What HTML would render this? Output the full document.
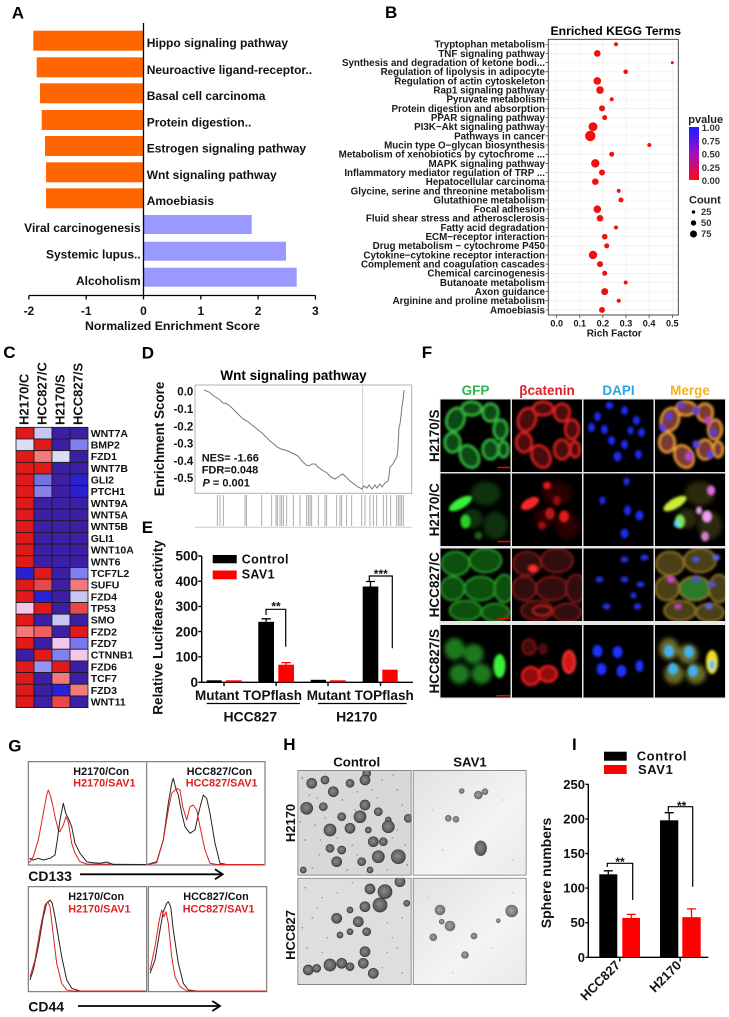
<!DOCTYPE html>
<html><head><meta charset="utf-8"><style>
html,body{margin:0;padding:0;background:#fff;}
svg{display:block;}
text{font-family:"Liberation Sans",Arial,sans-serif;font-weight:bold;}
</style></head><body>
<svg width="729" height="1017" viewBox="0 0 729 1017" xmlns="http://www.w3.org/2000/svg">
<defs>
<filter id="b1" x="-30%" y="-30%" width="160%" height="160%"><feGaussianBlur stdDeviation="1.2"/></filter>
<filter id="b2" x="-30%" y="-30%" width="160%" height="160%"><feGaussianBlur stdDeviation="2.5"/></filter>
<linearGradient id="pv" x1="0" y1="0" x2="0" y2="1"><stop offset="0" stop-color="#1a1aff"/><stop offset="0.5" stop-color="#a010c8"/><stop offset="1" stop-color="#ff0a0a"/></linearGradient>
<radialGradient id="sph" cx="0.45" cy="0.45" r="0.6"><stop offset="0" stop-color="#8a8a8a"/><stop offset="0.7" stop-color="#606060"/><stop offset="1" stop-color="#3c3c3c"/></radialGradient>
<radialGradient id="sph2" cx="0.45" cy="0.45" r="0.6"><stop offset="0" stop-color="#a4a4a4"/><stop offset="0.7" stop-color="#7a7a7a"/><stop offset="1" stop-color="#5a5a5a"/></radialGradient>
<linearGradient id="hbg" x1="0" y1="0" x2="1" y2="1"><stop offset="0" stop-color="#e2e2e2"/><stop offset="0.6" stop-color="#f4f4f4"/><stop offset="1" stop-color="#eaeaea"/></linearGradient>
</defs>
<rect width="729" height="1017" fill="#fff"/>

<!-- ===== Panel A ===== -->
<text x="11.7" y="18.3" font-size="17">A</text>
<g fill="#ff6600">
<rect x="33.3" y="30.7" width="110.2" height="20"/>
<rect x="36.7" y="57.3" width="106.8" height="20"/>
<rect x="40" y="83.3" width="103.5" height="20"/>
<rect x="41.7" y="110" width="101.8" height="20"/>
<rect x="45" y="136" width="98.5" height="20"/>
<rect x="46" y="162.3" width="97.5" height="20"/>
<rect x="46" y="188.3" width="97.5" height="20"/>
</g>
<g fill="#9999ff">
<rect x="143.5" y="215" width="108.2" height="19"/>
<rect x="143.5" y="241.7" width="142.5" height="19"/>
<rect x="143.5" y="267.7" width="153.2" height="19"/>
</g>
<g font-size="12" fill="#111">
<text x="146.7" y="47.2">Hippo signaling pathway</text>
<text x="146.7" y="73.8">Neuroactive ligand-receptor..</text>
<text x="146.7" y="99.8">Basal cell carcinoma</text>
<text x="146.7" y="126.5">Protein digestion..</text>
<text x="146.7" y="152.5">Estrogen signaling pathway</text>
<text x="146.7" y="178.8">Wnt signaling pathway</text>
<text x="146.7" y="204.8">Amoebiasis</text>
</g>
<g font-size="12" fill="#111" text-anchor="end">
<text x="140.7" y="232">Viral carcinogenesis</text>
<text x="140.7" y="258.5">Systemic lupus..</text>
<text x="140.7" y="285">Alcoholism</text>
</g>
<g stroke="#000" stroke-width="1.3" fill="none">
<line x1="143.5" y1="23" x2="143.5" y2="295.5"/>
<line x1="28.9" y1="295.5" x2="315.4" y2="295.5"/>
<path d="M28.9,295.5V299.5M86.2,295.5V299.5M143.5,295.5V299.5M200.8,295.5V299.5M258.1,295.5V299.5M315.4,295.5V299.5"/>
</g>
<g font-size="12" text-anchor="middle" fill="#111">
<text x="28.9" y="315">-2</text>
<text x="86.2" y="315">-1</text>
<text x="143.5" y="315">0</text>
<text x="200.8" y="315">1</text>
<text x="258.1" y="315">2</text>
<text x="315.4" y="315">3</text>
<text x="172.5" y="330" font-size="12.3">Normalized Enrichment Score</text>
</g>

<!-- ===== Panel B ===== -->
<text x="385" y="18" font-size="17">B</text>
<text x="615.8" y="35" font-size="12.2" text-anchor="middle">Enriched KEGG Terms</text>
<rect x="548.3" y="39.3" width="130" height="275.7" fill="#fff"/>
<g stroke="#ececec" stroke-width="0.6">
<path d="M556.7,39.3V315M579.8,39.3V315M602.9,39.3V315M626,39.3V315M649.1,39.3V315M672.3,39.3V315"/>
<path d="M548.3,44.3H678.3M548.3,53.46H678.3M548.3,62.62H678.3M548.3,71.78H678.3M548.3,80.94H678.3M548.3,90.1H678.3M548.3,99.26H678.3M548.3,108.42H678.3M548.3,117.58H678.3M548.3,126.74H678.3M548.3,135.9H678.3M548.3,145.06H678.3M548.3,154.22H678.3M548.3,163.38H678.3M548.3,172.54H678.3M548.3,181.7H678.3M548.3,190.86H678.3M548.3,200.02H678.3M548.3,209.18H678.3M548.3,218.34H678.3M548.3,227.5H678.3M548.3,236.66H678.3M548.3,245.82H678.3M548.3,254.98H678.3M548.3,264.14H678.3M548.3,273.3H678.3M548.3,282.46H678.3M548.3,291.62H678.3M548.3,300.78H678.3M548.3,309.94H678.3"/>
</g>
<rect x="548.3" y="39.3" width="130" height="275.7" fill="none" stroke="#333" stroke-width="0.9"/>
<g fill="#f01010">
<circle cx="616" cy="44.3" r="2"/>
<circle cx="597.3" cy="53.46" r="3.3"/>
<circle cx="672.3" cy="62.62" r="1.5"/>
<circle cx="625.7" cy="71.78" r="2.3"/>
<circle cx="597.3" cy="80.94" r="3.8"/>
<circle cx="600" cy="90.1" r="3.8"/>
<circle cx="611.7" cy="99.26" r="2"/>
<circle cx="602" cy="108.42" r="3"/>
<circle cx="604.7" cy="117.58" r="2.5"/>
<circle cx="593" cy="126.74" r="4.5"/>
<circle cx="590.3" cy="135.9" r="5.2"/>
<circle cx="649.3" cy="145.06" r="2"/>
<circle cx="611.7" cy="154.22" r="2.5"/>
<circle cx="595.3" cy="163.38" r="4.2"/>
<circle cx="602" cy="172.54" r="3"/>
<circle cx="595.3" cy="181.7" r="3.3"/>
<circle cx="618.7" cy="190.86" r="2"/>
<circle cx="621" cy="200.02" r="2.5"/>
<circle cx="597.3" cy="209.18" r="3.8"/>
<circle cx="600" cy="218.34" r="3.3"/>
<circle cx="616" cy="227.5" r="2"/>
<circle cx="604.7" cy="236.66" r="2.8"/>
<circle cx="606.7" cy="245.82" r="2.5"/>
<circle cx="593" cy="254.98" r="4.2"/>
<circle cx="600" cy="264.14" r="3"/>
<circle cx="604.7" cy="273.3" r="2.5"/>
<circle cx="625.7" cy="282.46" r="2"/>
<circle cx="604.7" cy="291.62" r="3.5"/>
<circle cx="618.7" cy="300.78" r="2"/>
<circle cx="602" cy="309.94" r="3"/>
</g>
<g stroke="#333" stroke-width="0.7">
<path d="M545.5,44.3H548.3M545.5,53.46H548.3M545.5,62.62H548.3M545.5,71.78H548.3M545.5,80.94H548.3M545.5,90.1H548.3M545.5,99.26H548.3M545.5,108.42H548.3M545.5,117.58H548.3M545.5,126.74H548.3M545.5,135.9H548.3M545.5,145.06H548.3M545.5,154.22H548.3M545.5,163.38H548.3M545.5,172.54H548.3M545.5,181.7H548.3M545.5,190.86H548.3M545.5,200.02H548.3M545.5,209.18H548.3M545.5,218.34H548.3M545.5,227.5H548.3M545.5,236.66H548.3M545.5,245.82H548.3M545.5,254.98H548.3M545.5,264.14H548.3M545.5,273.3H548.3M545.5,282.46H548.3M545.5,291.62H548.3M545.5,300.78H548.3M545.5,309.94H548.3"/>
<path d="M556.7,315V318M579.8,315V318M602.9,315V318M626,315V318M649.1,315V318M672.3,315V318"/>
</g>
<g font-size="9.8" text-anchor="end" fill="#1a1a1a">
<text x="545" y="47.7">Tryptophan metabolism</text>
<text x="545" y="56.86">TNF signaling pathway</text>
<text x="545" y="66.02">Synthesis and degradation of ketone bodi...</text>
<text x="545" y="75.18">Regulation of lipolysis in adipocyte</text>
<text x="545" y="84.34">Regulation of actin cytoskeleton</text>
<text x="545" y="93.5">Rap1 signaling pathway</text>
<text x="545" y="102.66">Pyruvate metabolism</text>
<text x="545" y="111.82">Protein digestion and absorption</text>
<text x="545" y="120.98">PPAR signaling pathway</text>
<text x="545" y="130.14">PI3K−Akt signaling pathway</text>
<text x="545" y="139.3">Pathways in cancer</text>
<text x="545" y="148.46">Mucin type O−glycan biosynthesis</text>
<text x="545" y="157.62">Metabolism of xenobiotics by cytochrome ...</text>
<text x="545" y="166.78">MAPK signaling pathway</text>
<text x="545" y="175.94">Inflammatory mediator regulation of TRP ...</text>
<text x="545" y="185.1">Hepatocellular carcinoma</text>
<text x="545" y="194.26">Glycine, serine and threonine metabolism</text>
<text x="545" y="203.42">Glutathione metabolism</text>
<text x="545" y="212.58">Focal adhesion</text>
<text x="545" y="221.74">Fluid shear stress and atherosclerosis</text>
<text x="545" y="230.9">Fatty acid degradation</text>
<text x="545" y="240.06">ECM−receptor interaction</text>
<text x="545" y="249.22">Drug metabolism − cytochrome P450</text>
<text x="545" y="258.38">Cytokine−cytokine receptor interaction</text>
<text x="545" y="267.54">Complement and coagulation cascades</text>
<text x="545" y="276.7">Chemical carcinogenesis</text>
<text x="545" y="285.86">Butanoate metabolism</text>
<text x="545" y="295.02">Axon guidance</text>
<text x="545" y="304.18">Arginine and proline metabolism</text>
<text x="545" y="313.34">Amoebiasis</text>
</g>
<g font-size="9.1" text-anchor="middle" fill="#1a1a1a">
<text x="556.7" y="326.5">0.0</text>
<text x="579.8" y="326.5">0.1</text>
<text x="602.9" y="326.5">0.2</text>
<text x="626" y="326.5">0.3</text>
<text x="649.1" y="326.5">0.4</text>
<text x="672.3" y="326.5">0.5</text>
<text x="614.2" y="336.5" font-size="10">Rich Factor</text>
</g>
<text x="688.3" y="123" font-size="11" font-weight="normal" fill="#222">pvalue</text>
<rect x="689" y="127" width="10" height="53" fill="url(#pv)"/>
<g font-size="9.4" fill="#333">
<text x="701.7" y="131" font-weight="normal">1.00</text>
<text x="701.7" y="144.3" font-weight="normal">0.75</text>
<text x="701.7" y="157.5" font-weight="normal">0.50</text>
<text x="701.7" y="170.8" font-weight="normal">0.25</text>
<text x="701.7" y="184" font-weight="normal">0.00</text>
</g>
<text x="689" y="203.5" font-size="11" font-weight="normal" fill="#222">Count</text>
<g fill="#000"><circle cx="693.5" cy="212" r="1.7"/><circle cx="693.5" cy="223" r="2.7"/><circle cx="693.5" cy="234" r="3.5"/></g>
<g font-size="9.4" fill="#333">
<text x="701" y="215.2" font-weight="normal">25</text>
<text x="701" y="226.2" font-weight="normal">50</text>
<text x="701" y="237.2" font-weight="normal">75</text>
</g>

<!-- ===== Panel C ===== -->
<text x="3.3" y="358" font-size="17">C</text>
<g font-size="13" fill="#111">
<text transform="translate(28.3,425) rotate(-90)">H2170/C</text>
<text transform="translate(46.3,425) rotate(-90)">HCC827/C</text>
<text transform="translate(64.3,425) rotate(-90)">H2170/S</text>
<text transform="translate(82.3,425) rotate(-90)">HCC827/S</text>
</g>
<g stroke="#1a1a1a" stroke-width="0.8">
<g transform="translate(0,427.3)"><rect x="16" width="18" height="11.68" fill="#e0191b"/><rect x="34" width="18" height="11.68" fill="#c8c6f2"/><rect x="52" width="18" height="11.68" fill="#3d1fa6"/><rect x="70" width="18" height="11.68" fill="#3d1fa6"/></g>
<g transform="translate(0,438.98)"><rect x="16" width="18" height="11.68" fill="#dcdcf4"/><rect x="34" width="18" height="11.68" fill="#e0191b"/><rect x="52" width="18" height="11.68" fill="#3d1fa6"/><rect x="70" width="18" height="11.68" fill="#8080ee"/></g>
<g transform="translate(0,450.66)"><rect x="16" width="18" height="11.68" fill="#e0191b"/><rect x="34" width="18" height="11.68" fill="#f27a7a"/><rect x="52" width="18" height="11.68" fill="#dcdcf4"/><rect x="70" width="18" height="11.68" fill="#3d1fa6"/></g>
<g transform="translate(0,462.34)"><rect x="16" width="18" height="11.68" fill="#e0191b"/><rect x="34" width="18" height="11.68" fill="#e0191b"/><rect x="52" width="18" height="11.68" fill="#3d1fa6"/><rect x="70" width="18" height="11.68" fill="#3d1fa6"/></g>
<g transform="translate(0,474.02)"><rect x="16" width="18" height="11.68" fill="#e0191b"/><rect x="34" width="18" height="11.68" fill="#7272e0"/><rect x="52" width="18" height="11.68" fill="#3d1fa6"/><rect x="70" width="18" height="11.68" fill="#2a20d0"/></g>
<g transform="translate(0,485.7)"><rect x="16" width="18" height="11.68" fill="#e0191b"/><rect x="34" width="18" height="11.68" fill="#8a80e8"/><rect x="52" width="18" height="11.68" fill="#3d1fa6"/><rect x="70" width="18" height="11.68" fill="#2a20d0"/></g>
<g transform="translate(0,497.38)"><rect x="16" width="18" height="11.68" fill="#e0191b"/><rect x="34" width="18" height="11.68" fill="#3d1fa6"/><rect x="52" width="18" height="11.68" fill="#3d1fa6"/><rect x="70" width="18" height="11.68" fill="#3d1fa6"/></g>
<g transform="translate(0,509.06)"><rect x="16" width="18" height="11.68" fill="#e0191b"/><rect x="34" width="18" height="11.68" fill="#3d1fa6"/><rect x="52" width="18" height="11.68" fill="#3d1fa6"/><rect x="70" width="18" height="11.68" fill="#3d1fa6"/></g>
<g transform="translate(0,520.74)"><rect x="16" width="18" height="11.68" fill="#e0191b"/><rect x="34" width="18" height="11.68" fill="#3d1fa6"/><rect x="52" width="18" height="11.68" fill="#3d1fa6"/><rect x="70" width="18" height="11.68" fill="#3d1fa6"/></g>
<g transform="translate(0,532.42)"><rect x="16" width="18" height="11.68" fill="#e0191b"/><rect x="34" width="18" height="11.68" fill="#3d1fa6"/><rect x="52" width="18" height="11.68" fill="#3d1fa6"/><rect x="70" width="18" height="11.68" fill="#3d1fa6"/></g>
<g transform="translate(0,544.1)"><rect x="16" width="18" height="11.68" fill="#e0191b"/><rect x="34" width="18" height="11.68" fill="#3d1fa6"/><rect x="52" width="18" height="11.68" fill="#3d1fa6"/><rect x="70" width="18" height="11.68" fill="#3d1fa6"/></g>
<g transform="translate(0,555.78)"><rect x="16" width="18" height="11.68" fill="#e0191b"/><rect x="34" width="18" height="11.68" fill="#3d1fa6"/><rect x="52" width="18" height="11.68" fill="#3d1fa6"/><rect x="70" width="18" height="11.68" fill="#3d1fa6"/></g>
<g transform="translate(0,567.46)"><rect x="16" width="18" height="11.68" fill="#2a20d0"/><rect x="34" width="18" height="11.68" fill="#e0191b"/><rect x="52" width="18" height="11.68" fill="#3d1fa6"/><rect x="70" width="18" height="11.68" fill="#8080ee"/></g>
<g transform="translate(0,579.14)"><rect x="16" width="18" height="11.68" fill="#e0191b"/><rect x="34" width="18" height="11.68" fill="#e8484a"/><rect x="52" width="18" height="11.68" fill="#3d1fa6"/><rect x="70" width="18" height="11.68" fill="#f27a7a"/></g>
<g transform="translate(0,590.82)"><rect x="16" width="18" height="11.68" fill="#e0191b"/><rect x="34" width="18" height="11.68" fill="#2a20d8"/><rect x="52" width="18" height="11.68" fill="#3d1fa6"/><rect x="70" width="18" height="11.68" fill="#c8c6f2"/></g>
<g transform="translate(0,602.5)"><rect x="16" width="18" height="11.68" fill="#f4c6e8"/><rect x="34" width="18" height="11.68" fill="#e0191b"/><rect x="52" width="18" height="11.68" fill="#3d1fa6"/><rect x="70" width="18" height="11.68" fill="#e8484a"/></g>
<g transform="translate(0,614.18)"><rect x="16" width="18" height="11.68" fill="#e0191b"/><rect x="34" width="18" height="11.68" fill="#3d1fa6"/><rect x="52" width="18" height="11.68" fill="#c8c6f2"/><rect x="70" width="18" height="11.68" fill="#3d1fa6"/></g>
<g transform="translate(0,625.86)"><rect x="16" width="18" height="11.68" fill="#f27a7a"/><rect x="34" width="18" height="11.68" fill="#ee6060"/><rect x="52" width="18" height="11.68" fill="#3d1fa6"/><rect x="70" width="18" height="11.68" fill="#e0191b"/></g>
<g transform="translate(0,637.54)"><rect x="16" width="18" height="11.68" fill="#e0191b"/><rect x="34" width="18" height="11.68" fill="#3d1fa6"/><rect x="52" width="18" height="11.68" fill="#f4c6e8"/><rect x="70" width="18" height="11.68" fill="#7878ee"/></g>
<g transform="translate(0,649.22)"><rect x="16" width="18" height="11.68" fill="#3d1fa6"/><rect x="34" width="18" height="11.68" fill="#e0191b"/><rect x="52" width="18" height="11.68" fill="#8080ee"/><rect x="70" width="18" height="11.68" fill="#f4c8ec"/></g>
<g transform="translate(0,660.9)"><rect x="16" width="18" height="11.68" fill="#e0191b"/><rect x="34" width="18" height="11.68" fill="#9494f0"/><rect x="52" width="18" height="11.68" fill="#e0191b"/><rect x="70" width="18" height="11.68" fill="#3d1fa6"/></g>
<g transform="translate(0,672.58)"><rect x="16" width="18" height="11.68" fill="#e0191b"/><rect x="34" width="18" height="11.68" fill="#3d1fa6"/><rect x="52" width="18" height="11.68" fill="#f27a7a"/><rect x="70" width="18" height="11.68" fill="#3d1fa6"/></g>
<g transform="translate(0,684.26)"><rect x="16" width="18" height="11.68" fill="#e0191b"/><rect x="34" width="18" height="11.68" fill="#3d1fa6"/><rect x="52" width="18" height="11.68" fill="#2a20d8"/><rect x="70" width="18" height="11.68" fill="#f27a7a"/></g>
<g transform="translate(0,695.94)"><rect x="16" width="18" height="11.68" fill="#e0191b"/><rect x="34" width="18" height="11.68" fill="#3d1fa6"/><rect x="52" width="18" height="11.68" fill="#e8484a"/><rect x="70" width="18" height="11.68" fill="#3d1fa6"/></g>
</g>
<g font-size="10.5" fill="#111">
<text x="90.7" y="436.8">WNT7A</text>
<text x="90.7" y="448.5">BMP2</text>
<text x="90.7" y="460.2">FZD1</text>
<text x="90.7" y="471.8">WNT7B</text>
<text x="90.7" y="483.5">GLI2</text>
<text x="90.7" y="495.2">PTCH1</text>
<text x="90.7" y="506.9">WNT9A</text>
<text x="90.7" y="518.6">WNT5A</text>
<text x="90.7" y="530.2">WNT5B</text>
<text x="90.7" y="541.9">GLI1</text>
<text x="90.7" y="553.6">WNT10A</text>
<text x="90.7" y="565.3">WNT6</text>
<text x="90.7" y="577">TCF7L2</text>
<text x="90.7" y="588.6">SUFU</text>
<text x="90.7" y="600.3">FZD4</text>
<text x="90.7" y="612">TP53</text>
<text x="90.7" y="623.7">SMO</text>
<text x="90.7" y="635.4">FZD2</text>
<text x="90.7" y="647">FZD7</text>
<text x="90.7" y="658.7">CTNNB1</text>
<text x="90.7" y="670.4">FZD6</text>
<text x="90.7" y="682.1">TCF7</text>
<text x="90.7" y="693.8">FZD3</text>
<text x="90.7" y="705.4">WNT11</text>
</g>

<!-- ===== Panel D ===== -->
<text x="141.7" y="358.3" font-size="17">D</text>
<text x="293.5" y="380" font-size="13.5" text-anchor="middle">Wnt signaling pathway</text>
<rect x="195" y="385" width="216.7" height="108.3" fill="none" stroke="#b0b0b0" stroke-width="1"/>
<line x1="362.7" y1="385" x2="362.7" y2="493.3" stroke="#c4c4c4" stroke-width="0.8"/>
<polyline fill="none" stroke="#777" stroke-width="1" points="204,390 209,392 214,396 217,398 220,400 223,403 226,403.5 230,406 233,409 238,414 243,419 247,421 252,425 257,429 262,433 266,437 270,441 274,444 277,447 281,449 285,450 290,452 294,454 298,456 302,461 306,465 309,466 312,464 315,464 318,467 322,470 327,473 331,477 335,479 338,477 341,475 343,474 346,477 350,481 354,484 358,487 362,489 364,486 367,488 369,485 372,489 375,485 377,488 380,484 382,487 385,483 388,481 389,476 390,467 393,464 395,460 397,457 398,448 399,427 400,424 401,416 402,406 403,400 404,390"/>
<g font-size="11.5" text-anchor="end" fill="#111">
<text x="193.3" y="395.7">0.0</text>
<text x="193.3" y="413">-0.1</text>
<text x="193.3" y="430.3">-0.2</text>
<text x="193.3" y="447.6">-0.3</text>
<text x="193.3" y="464.9">-0.4</text>
<text x="193.3" y="482.2">-0.5</text>
</g>
<text transform="translate(164,439) rotate(-90)" font-size="13.4" text-anchor="middle" fill="#111">Enrichment Score</text>
<g font-size="11" fill="#111">
<text x="201.7" y="461.7">NES= -1.66</text>
<text x="201.7" y="473.5">FDR=0.048</text>
<text x="202.5" y="486.7"><tspan font-style="italic">P</tspan> = 0.001</text>
</g>
<path stroke="#9a9a9a" stroke-width="0.8" fill="none" d="M217.3,495V526M220,495V526M223.3,495V526M245,495V526M246.5,495V526M261.7,495V526M271.7,495V526M276,495V526M277.3,495V526M280,495V526M281.7,495V526M283.3,495V526M286.7,495V526M293.3,495V526M300,495V526M306.7,495V526M308.3,495V526M310,495V526M311.7,495V526M318.3,495V526M325,495V526M326.7,495V526M336.7,495V526M340,495V526M341.7,495V526M346.7,495V526M351.7,495V526M361.7,495V526M365,495V526M370,495V526M373.3,495V526M376.7,495V526M383.3,495V526M386.7,495V526M390.7,495V526M396.7,495V526M398.3,495V526M400,495V526M401.7,495V526M403.3,495V526"/>
<line x1="195" y1="527.3" x2="411.7" y2="527.3" stroke="#c8c8c8" stroke-width="1"/>

<!-- ===== Panel E ===== -->
<text x="141.7" y="533" font-size="17">E</text>
<text transform="translate(162.5,627.5) rotate(-90)" font-size="13.6" text-anchor="middle" fill="#111">Relative Lucifearse activity</text>
<g font-size="13.5" text-anchor="end" fill="#111">
<text x="198" y="560.7">500</text>
<text x="198" y="585.9">400</text>
<text x="198" y="611.1">300</text>
<text x="198" y="636.3">200</text>
<text x="198" y="661.5">100</text>
<text x="198" y="686.8">0</text>
</g>
<g stroke="#000" stroke-width="1.4" fill="none">
<line x1="201.7" y1="556" x2="201.7" y2="682.3"/>
<line x1="201.7" y1="682.3" x2="413" y2="682.3"/>
<path d="M198.3,556H201.7M198.3,581.2H201.7M198.3,606.4H201.7M198.3,631.6H201.7M198.3,656.8H201.7M198.3,682.3H201.7"/>
<path d="M224,682.3V686M276.2,682.3V686M328,682.3V686M380.5,682.3V686"/>
</g>
<rect x="212.7" y="555" width="24" height="8.3" fill="#000"/>
<rect x="212.7" y="570.5" width="24" height="8.8" fill="#f00"/>
<text x="241.7" y="563.5" font-size="12.5" fill="#111" letter-spacing="0.4">Control</text>
<text x="241.7" y="578.5" font-size="12.5" fill="#111" letter-spacing="0.4">SAV1</text>
<g fill="#000">
<rect x="206.7" y="680.3" width="15" height="2"/>
<rect x="258.3" y="621.8" width="15.7" height="60.5"/>
<rect x="310.7" y="679.8" width="15.3" height="2.5"/>
<rect x="362.7" y="586.5" width="15.6" height="95.8"/>
</g>
<g fill="#f00">
<rect x="226" y="680.3" width="15.7" height="2"/>
<rect x="278.3" y="664.7" width="15.7" height="17.6"/>
<rect x="330" y="680.3" width="15.7" height="2"/>
<rect x="382.3" y="669.7" width="15.4" height="12.6"/>
</g>
<g stroke="#000" stroke-width="1.3"><path d="M266.1,621.8V618.8M261.5,618.8H270.8M370.5,586.5V581.5M366,581.5H375"/></g>
<g stroke="#f00" stroke-width="1.3"><path d="M286.1,664.7V662.6M281.5,662.6H290.8"/></g>
<g stroke="#000" stroke-width="1.2" fill="none">
<path d="M266,615V609.3H285.7V646.7"/>
<path d="M369.3,581.7V576H392.3V648.3"/>
</g>
<text x="276" y="610.5" font-size="12" text-anchor="middle" fill="#111">**</text>
<text x="380.8" y="578" font-size="12" text-anchor="middle" fill="#111">***</text>
<g font-size="13.5" fill="#111">
<text x="195" y="700">Mutant TOPflash</text>
<text x="306.7" y="700">Mutant TOPflash</text>
</g>
<g stroke="#000" stroke-width="1.3"><line x1="206.7" y1="703.5" x2="300" y2="703.5"/><line x1="318" y1="703.5" x2="406.7" y2="703.5"/></g>
<g font-size="14" text-anchor="middle" fill="#111">
<text x="250.3" y="721.5">HCC827</text>
<text x="356.7" y="721.5">H2170</text>
</g>

<!-- ===== Panel F ===== -->
<text x="421.7" y="358" font-size="17">F</text>
<g font-size="13.5" text-anchor="middle">
<text x="475.5" y="395" fill="#2db84a">GFP</text>
<text x="547" y="395" fill="#e0202a">βcatenin</text>
<text x="618.5" y="395" fill="#2aa4e4">DAPI</text>
<text x="690" y="395" fill="#f2b424">Merge</text>
</g>
<g font-size="13.5" text-anchor="middle" fill="#111">
<text transform="translate(439,435.75) rotate(-90)">H2170/S</text>
<text transform="translate(439,509.75) rotate(-90)">H2170/C</text>
<text transform="translate(439,584.75) rotate(-90)">HCC827/C</text>
<text transform="translate(439,661.25) rotate(-90)">HCC827/S</text>
</g>
<rect x="439.5" y="398.5" width="286.5" height="300" fill="#e6e6e6"/>
<!-- Row 1 -->
<svg x="440.5" y="399.5" width="70" height="72.5"><rect width="70" height="72.5" fill="#000"/>
<g filter="url(#b1)" fill="#0f4a12" stroke="#35c040" stroke-width="2.2">
<ellipse cx="15" cy="20" rx="9" ry="12" transform="rotate(20 15 20)"/><ellipse cx="31" cy="9" rx="10" ry="7"/><ellipse cx="50" cy="13" rx="8" ry="9"/><ellipse cx="60" cy="30" rx="7" ry="10"/><ellipse cx="12" cy="43" rx="8" ry="10"/><ellipse cx="29" cy="57" rx="9" ry="12" transform="rotate(-30 29 57)"/><ellipse cx="50" cy="50" rx="8" ry="10"/><ellipse cx="63" cy="50" rx="5" ry="8"/></g>
<line x1="57" y1="68" x2="69.5" y2="68" stroke="#e00" stroke-width="1.5"/></svg>
<svg x="512" y="399.5" width="70" height="72.5"><rect width="70" height="72.5" fill="#000"/>
<g filter="url(#b1)" fill="#4a0808" stroke="#e02222" stroke-width="2.2">
<ellipse cx="15" cy="20" rx="9" ry="12" transform="rotate(20 15 20)"/><ellipse cx="31" cy="9" rx="10" ry="7"/><ellipse cx="50" cy="13" rx="8" ry="9"/><ellipse cx="60" cy="30" rx="7" ry="10"/><ellipse cx="12" cy="43" rx="8" ry="10"/><ellipse cx="29" cy="57" rx="9" ry="12" transform="rotate(-30 29 57)"/><ellipse cx="50" cy="50" rx="8" ry="10"/><ellipse cx="63" cy="50" rx="5" ry="8"/></g></svg>
<svg x="583.5" y="399.5" width="70" height="72.5"><rect width="70" height="72.5" fill="#000"/>
<g filter="url(#b1)" fill="#1e2cf0">
<ellipse cx="26" cy="6" rx="4" ry="3.5"/><ellipse cx="41" cy="11" rx="3.5" ry="4.5"/><ellipse cx="14" cy="17" rx="3.5" ry="4.5"/><ellipse cx="8" cy="28" rx="3.5" ry="4.5"/><ellipse cx="21" cy="30" rx="3.5" ry="4.5"/><ellipse cx="53" cy="21" rx="3.5" ry="4.5"/><ellipse cx="58" cy="33" rx="3.5" ry="4.5"/><ellipse cx="47" cy="31" rx="3" ry="4"/><ellipse cx="28" cy="41" rx="3.5" ry="4.5"/><ellipse cx="41" cy="45" rx="3.5" ry="4.5"/><ellipse cx="34" cy="57" rx="4" ry="5"/><ellipse cx="55" cy="55" rx="3.5" ry="4.5"/></g></svg>
<svg x="655" y="399.5" width="70" height="72.5"><rect width="70" height="72.5" fill="#000"/>
<g filter="url(#b1)" fill="#7a3a30" stroke="#f0a030" stroke-width="2.2">
<ellipse cx="15" cy="20" rx="9" ry="12" transform="rotate(20 15 20)"/><ellipse cx="31" cy="9" rx="10" ry="7"/><ellipse cx="50" cy="13" rx="8" ry="9"/><ellipse cx="60" cy="30" rx="7" ry="10"/><ellipse cx="12" cy="43" rx="8" ry="10"/><ellipse cx="29" cy="57" rx="9" ry="12" transform="rotate(-30 29 57)"/><ellipse cx="50" cy="50" rx="8" ry="10"/><ellipse cx="63" cy="50" rx="5" ry="8"/></g>
<g filter="url(#b1)" fill="#5a3ce0">
<ellipse cx="26" cy="6" rx="4" ry="3.5"/><ellipse cx="41" cy="11" rx="3.5" ry="4.5"/><ellipse cx="14" cy="17" rx="3.5" ry="4.5"/><ellipse cx="8" cy="28" rx="3.5" ry="4.5"/><ellipse cx="53" cy="21" rx="3.5" ry="4.5" fill="#c040c0"/><ellipse cx="58" cy="33" rx="3.5" ry="4.5"/><ellipse cx="41" cy="45" rx="3.5" ry="4.5"/><ellipse cx="34" cy="57" rx="4" ry="5" fill="#b04ad0"/><ellipse cx="55" cy="55" rx="3.5" ry="4.5"/></g></svg>
<!-- Row 2 -->
<svg x="440.5" y="473.5" width="70" height="72.5"><rect width="70" height="72.5" fill="#000"/>
<g filter="url(#b2)" fill="#0c300c"><ellipse cx="45" cy="20" rx="15" ry="12"/><ellipse cx="55" cy="52" rx="12" ry="14"/><ellipse cx="32" cy="45" rx="10" ry="10"/></g>
<g filter="url(#b1)"><ellipse cx="20" cy="30" rx="13" ry="5" transform="rotate(-30 20 30)" fill="#3af03a"/><ellipse cx="25" cy="48" rx="5" ry="7" fill="#2cd02c"/><ellipse cx="38" cy="62" rx="4" ry="4" fill="#156015"/></g>
<line x1="57" y1="68" x2="69.5" y2="68" stroke="#e00" stroke-width="1.5"/></svg>
<svg x="512" y="473.5" width="70" height="72.5"><rect width="70" height="72.5" fill="#000"/>
<g filter="url(#b2)" fill="#2a0606"><ellipse cx="45" cy="20" rx="15" ry="12"/><ellipse cx="55" cy="52" rx="12" ry="14"/><ellipse cx="32" cy="45" rx="10" ry="10"/></g>
<g filter="url(#b1)"><ellipse cx="18" cy="30" rx="10" ry="5" transform="rotate(-30 18 30)" fill="#ff2626"/><ellipse cx="35" cy="12" rx="4" ry="4" fill="#dd1a1a"/><ellipse cx="38" cy="40" rx="5" ry="6" fill="#b81414"/><ellipse cx="52" cy="43" rx="5" ry="6" fill="#e01c1c"/><ellipse cx="45" cy="27" rx="4" ry="5" fill="#901010"/><ellipse cx="30" cy="52" rx="4" ry="4" fill="#a01010"/></g></svg>
<svg x="583.5" y="473.5" width="70" height="72.5"><rect width="70" height="72.5" fill="#000"/>
<g filter="url(#b1)" fill="#1e2cf0"><ellipse cx="43" cy="8" rx="3" ry="4"/><ellipse cx="19" cy="27" rx="3" ry="4"/><ellipse cx="44" cy="37" rx="3.5" ry="5"/><ellipse cx="56" cy="42" rx="4" ry="5"/><ellipse cx="41" cy="60" rx="4" ry="5"/></g></svg>
<svg x="655" y="473.5" width="70" height="72.5"><rect width="70" height="72.5" fill="#000"/>
<g filter="url(#b2)" fill="#2a2a10"><ellipse cx="45" cy="20" rx="15" ry="12"/><ellipse cx="55" cy="52" rx="12" ry="14"/><ellipse cx="32" cy="45" rx="10" ry="10"/></g>
<g filter="url(#b1)"><ellipse cx="20" cy="30" rx="13" ry="5" transform="rotate(-30 20 30)" fill="#c8f03a"/><ellipse cx="25" cy="48" rx="5" ry="7" fill="#80e050"/><ellipse cx="52" cy="43" rx="5" ry="6" fill="#f0a0f0"/><ellipse cx="56" cy="17" rx="4" ry="5" fill="#e070e0"/><ellipse cx="22" cy="50" rx="3" ry="4" fill="#60e0f0"/><ellipse cx="50" cy="63" rx="4" ry="5" fill="#d080d0"/><ellipse cx="44" cy="37" rx="3" ry="4" fill="#e0a0e0"/></g></svg>
<!-- Row 3 -->
<svg x="440.5" y="548.5" width="70" height="72.5"><rect width="70" height="72.5" fill="#000"/>
<g filter="url(#b1)" fill="#11500f" stroke="#2aa02a" stroke-width="1.6"><ellipse cx="15" cy="15" rx="14" ry="12"/><ellipse cx="45" cy="12" rx="16" ry="12"/><ellipse cx="12" cy="40" rx="12" ry="12"/><ellipse cx="40" cy="40" rx="16" ry="12"/><ellipse cx="64" cy="40" rx="10" ry="14"/><ellipse cx="25" cy="62" rx="16" ry="10"/><ellipse cx="55" cy="64" rx="14" ry="9"/></g>
<line x1="57" y1="70" x2="69.5" y2="70" stroke="#e00" stroke-width="1.5"/></svg>
<svg x="512" y="548.5" width="70" height="72.5"><rect width="70" height="72.5" fill="#000"/>
<g filter="url(#b1)" fill="#300808" stroke="#8a1a1a" stroke-width="1.6"><ellipse cx="15" cy="15" rx="14" ry="12"/><ellipse cx="45" cy="12" rx="16" ry="12"/><ellipse cx="12" cy="40" rx="12" ry="12"/><ellipse cx="40" cy="40" rx="16" ry="12"/><ellipse cx="64" cy="40" rx="10" ry="14"/><ellipse cx="25" cy="62" rx="16" ry="10"/><ellipse cx="55" cy="64" rx="14" ry="9"/></g>
<g filter="url(#b1)"><ellipse cx="21" cy="20" rx="5" ry="4" fill="#ff3030"/><ellipse cx="30" cy="62" rx="9" ry="5" fill="none" stroke="#d02020" stroke-width="2"/></g></svg>
<svg x="583.5" y="548.5" width="70" height="72.5"><rect width="70" height="72.5" fill="#000"/>
<g filter="url(#b1)" fill="#2030e0"><ellipse cx="41" cy="11" rx="4" ry="3"/><ellipse cx="61" cy="9" rx="4" ry="3"/><ellipse cx="16" cy="31" rx="4" ry="3"/><ellipse cx="41" cy="31" rx="4" ry="3"/><ellipse cx="57" cy="36" rx="4" ry="3"/><ellipse cx="23" cy="58" rx="4" ry="3"/><ellipse cx="54" cy="58" rx="4" ry="3"/><ellipse cx="50" cy="47" rx="3" ry="3"/></g></svg>
<svg x="655" y="548.5" width="70" height="72.5"><rect width="70" height="72.5" fill="#000"/>
<g filter="url(#b1)" fill="#4a4018" stroke="#9a7a2a" stroke-width="1.6"><ellipse cx="15" cy="15" rx="14" ry="12"/><ellipse cx="45" cy="12" rx="16" ry="12"/><ellipse cx="12" cy="40" rx="12" ry="12"/><ellipse cx="40" cy="40" rx="16" ry="12" fill="#2a7a2a"/><ellipse cx="64" cy="40" rx="10" ry="14"/><ellipse cx="25" cy="62" rx="16" ry="10"/><ellipse cx="55" cy="64" rx="14" ry="9"/></g>
<g filter="url(#b1)"><ellipse cx="41" cy="11" rx="4" ry="3" fill="#5050e0"/><ellipse cx="61" cy="9" rx="4" ry="3" fill="#6060e0"/><ellipse cx="16" cy="31" rx="4" ry="3.5" fill="#d040d0"/><ellipse cx="41" cy="31" rx="4" ry="3" fill="#5050e0"/><ellipse cx="57" cy="36" rx="4" ry="3" fill="#5050e0"/><ellipse cx="23" cy="58" rx="4" ry="3" fill="#c040c0"/><ellipse cx="54" cy="58" rx="4" ry="3" fill="#6060f0"/></g></svg>
<!-- Row 4 -->
<svg x="440.5" y="625" width="70" height="72.5"><rect width="70" height="72.5" fill="#000"/>
<g filter="url(#b2)" fill="#1e7a1e"><ellipse cx="14" cy="24" rx="10" ry="11"/><ellipse cx="33" cy="29" rx="10" ry="10"/><ellipse cx="19" cy="49" rx="10" ry="10"/><ellipse cx="41" cy="49" rx="10" ry="10"/></g>
<g filter="url(#b1)"><ellipse cx="59" cy="41" rx="6" ry="12" fill="#3af03a"/></g>
<line x1="56" y1="70.7" x2="69.5" y2="70.7" stroke="#e00" stroke-width="1.5"/></svg>
<svg x="512" y="625" width="70" height="72.5"><rect width="70" height="72.5" fill="#000"/>
<g filter="url(#b1)"><ellipse cx="17" cy="22" rx="7" ry="8" fill="#400808" stroke="#901010" stroke-width="1.5"/><ellipse cx="31" cy="24" rx="5" ry="6" fill="#500a0a"/><ellipse cx="19" cy="51" rx="9" ry="9" fill="#900c0c" stroke="#ff2020" stroke-width="2"/><ellipse cx="36" cy="49" rx="9" ry="8" fill="#900c0c" stroke="#ff2020" stroke-width="2"/><ellipse cx="57" cy="37" rx="6" ry="11" fill="#d01414" stroke="#ff3a3a" stroke-width="2"/></g></svg>
<svg x="583.5" y="625" width="70" height="72.5"><rect width="70" height="72.5" fill="#000"/>
<g filter="url(#b1)" fill="#1a30ff"><ellipse cx="14" cy="26" rx="5" ry="6"/><ellipse cx="34" cy="27" rx="5" ry="6"/><ellipse cx="18" cy="44" rx="5" ry="6"/><ellipse cx="38" cy="46" rx="5" ry="6"/><ellipse cx="56" cy="41" rx="4" ry="6"/></g></svg>
<svg x="655" y="625" width="70" height="72.5"><rect width="70" height="72.5" fill="#000"/>
<g filter="url(#b2)" fill="#6a6a28"><ellipse cx="14" cy="24" rx="10" ry="11"/><ellipse cx="33" cy="29" rx="10" ry="10"/><ellipse cx="19" cy="49" rx="10" ry="10"/><ellipse cx="41" cy="49" rx="10" ry="10"/></g>
<g filter="url(#b1)"><ellipse cx="14" cy="26" rx="5" ry="6" fill="#40b0f0"/><ellipse cx="34" cy="27" rx="5" ry="6" fill="#40b0f0"/><ellipse cx="18" cy="44" rx="5" ry="6" fill="#40b0f0"/><ellipse cx="38" cy="46" rx="5" ry="6" fill="#40b0f0"/><ellipse cx="57" cy="37" rx="6" ry="12" fill="#f0e020"/><ellipse cx="57" cy="40" rx="3" ry="5" fill="#60c0f0"/></g></svg>

<!-- ===== Panel G ===== -->
<text x="8.3" y="751.7" font-size="17">G</text>
<g fill="none" stroke="#666" stroke-width="1">
<rect x="28.3" y="761.7" width="236.7" height="103.3"/>
<line x1="146.7" y1="761.7" x2="146.7" y2="865"/>
<rect x="28.3" y="886.7" width="118.4" height="105"/>
<rect x="148.3" y="886.7" width="118.4" height="105"/>
</g>
<g fill="none" stroke-width="1" stroke-linejoin="round">
<polyline stroke="#e02020" points="29.3,862.7 33.3,856.7 38.3,840 42.7,816.7 46.7,795 48.3,790 50.7,796.7 52.7,805 55,816.7 58.3,830 60,831.7 63.3,825 66,816.7 68.3,821.7 71.7,843.3 75,853.3 80,861.7 86.7,864 146,864.5"/>
<polyline stroke="#222" points="29.3,858.3 33.3,860 38.3,858.3 43.3,860 50,858.3 55,855 57.3,840 60,820 63.3,803.3 65.7,813.3 68.3,818.3 71.7,826.7 75,843.3 80,853.3 86.7,861.7 93.3,862.7 100,863.3 106.7,862 113.3,864.5 146,864.5"/>
<polyline stroke="#222" points="147.5,864.3 156.7,861.7 163.3,840 168.3,803.3 171.7,783.3 173.3,778.3 175.7,788.3 178.3,795 181.7,813.3 185,826.7 190,833.3 195,830 199.3,810 203.3,795 206.7,798.3 210,813.3 215,843.3 220,863.3 226.7,864.5 264,864.5"/>
<polyline stroke="#e02020" points="147.5,864.5 156.7,862.7 163.3,840 168.3,810 171.7,793.3 176.7,788.3 180,790 182.7,806.7 186.7,820 190,806.7 193.3,805 196.7,810 200,826.7 205,850 210,863.3 216.7,864.5 264,864.5"/>
<polyline stroke="#222" points="30,980 33.3,970 38.3,946.7 43.3,916.7 46.7,903.3 50,900 52.3,903.3 55,916.7 58.3,936.7 61.7,956.7 66.7,980 71.7,988.3 80,991 146,991"/>
<polyline stroke="#e02020" points="30,976.7 35,960 40,930 45,905 47.7,901.7 50,906.7 52.7,930 56.7,963.3 61.7,983.3 66.7,990 73.3,991 146,991"/>
<polyline stroke="#222" points="150,973.3 155,960 160,930 163.3,911.7 166.7,903.3 168.3,901.7 170.7,906.7 173.3,930 178.3,963.3 183.3,983.3 188.3,990 196.7,991 266,991"/>
<polyline stroke="#e02020" points="150,970 155,946.7 159.3,920 161.7,910 164,916.7 166,911.7 168.3,923.3 171.7,956.7 175,976.7 180,986.7 186.7,991 266,991"/>
</g>
<g font-size="10.8">
<text x="73.3" y="775" fill="#111">H2170/Con</text>
<text x="73.3" y="786.7" fill="#e02020">H2170/SAV1</text>
<text x="186.7" y="775" fill="#111">HCC827/Con</text>
<text x="185.7" y="786.7" fill="#e02020">HCC827/SAV1</text>
<text x="68.3" y="900" fill="#111">H2170/Con</text>
<text x="68.3" y="912.7" fill="#e02020">H2170/SAV1</text>
<text x="183.3" y="900" fill="#111">HCC827/Con</text>
<text x="182.7" y="912.7" fill="#e02020">HCC827/SAV1</text>
</g>
<text x="28.3" y="881" font-size="14" fill="#111">CD133</text>
<text x="28.3" y="1011.7" font-size="14" fill="#111">CD44</text>
<g stroke="#000" stroke-width="1.8" fill="none">
<line x1="80" y1="874.3" x2="222" y2="874.3"/>
<polyline points="215,869.3 222.7,874.3 215,879.3"/>
<line x1="78" y1="1006" x2="219.3" y2="1006"/>
<polyline points="212.3,1001 220,1006 212.3,1011"/>
</g>

<!-- ===== Panel H ===== -->
<text x="283.3" y="750" font-size="17">H</text>
<g font-size="13.2" text-anchor="middle" fill="#111">
<text x="356.7" y="766.7">Control</text>
<text x="470" y="766.7">SAV1</text>
</g>
<g font-size="13" text-anchor="middle" fill="#111">
<text transform="translate(295,823) rotate(-90)">H2170</text>
<text transform="translate(295,935) rotate(-90)">HCC827</text>
</g>
<svg x="297.3" y="770" width="114.4" height="105.7"><rect width="114.4" height="105.7" fill="#d8d8d8"/>
<g fill="#8a8a8a"><circle cx="5" cy="8" r="0.9"/><circle cx="20" cy="28" r="0.8"/><circle cx="45" cy="30" r="0.9"/><circle cx="60" cy="22" r="0.7"/><circle cx="85" cy="10" r="0.8"/><circle cx="100" cy="20" r="0.9"/><circle cx="105" cy="35" r="0.7"/><circle cx="18" cy="55" r="0.8"/><circle cx="8" cy="70" r="0.9"/><circle cx="22" cy="85" r="0.7"/><circle cx="55" cy="75" r="0.8"/><circle cx="95" cy="68" r="0.7"/><circle cx="108" cy="75" r="0.8"/><circle cx="50" cy="100" r="0.9"/><circle cx="90" cy="100" r="0.7"/><circle cx="15" cy="98" r="0.8"/><circle cx="75" cy="20" r="0.7"/><circle cx="40" cy="68" r="0.7"/><circle cx="3" cy="52" r="0.8"/><circle cx="28" cy="48" r="0.7"/><circle cx="58" cy="40" r="0.8"/><circle cx="100" cy="60" r="0.7"/><circle cx="110" cy="95" r="0.9"/><circle cx="60" cy="85" r="0.7"/><circle cx="12" cy="25" r="0.7"/><circle cx="96" cy="5" r="0.8"/><circle cx="80" cy="28" r="0.7"/><circle cx="23" cy="70" r="0.8"/></g>
<g fill="url(#sph)" stroke="#3a3a3a" stroke-width="0.7">
<circle cx="14.4" cy="13.3" r="5"/><circle cx="27.7" cy="10" r="4"/><circle cx="36" cy="21.7" r="5"/><circle cx="52.7" cy="13.3" r="4"/><circle cx="69.4" cy="3.3" r="4"/><circle cx="67.7" cy="10" r="5"/><circle cx="9.4" cy="38.3" r="6"/><circle cx="26" cy="36.7" r="4"/><circle cx="44.4" cy="46.7" r="4"/><circle cx="62.7" cy="46.7" r="6"/><circle cx="67.7" cy="35" r="5"/><circle cx="81" cy="41.7" r="4"/><circle cx="91" cy="50" r="3"/><circle cx="32.7" cy="60" r="6"/><circle cx="52.7" cy="58.3" r="5"/><circle cx="71" cy="60" r="3"/><circle cx="91" cy="56.7" r="6"/><circle cx="111" cy="48.3" r="4"/><circle cx="32.7" cy="78.3" r="4"/><circle cx="44.4" cy="80" r="4"/><circle cx="76" cy="71.7" r="5"/><circle cx="86" cy="71.7" r="4"/><circle cx="81" cy="86.7" r="6"/><circle cx="101" cy="86.7" r="7"/><circle cx="39.4" cy="91.7" r="5"/><circle cx="64.4" cy="91.7" r="4"/><circle cx="72.7" cy="100" r="3"/><circle cx="6" cy="100" r="3"/></g>
<rect x="0.5" y="0.5" width="113.4" height="104.7" fill="none" stroke="#888"/></svg>
<svg x="412.7" y="770" width="114" height="105.7"><rect width="114" height="105.7" fill="url(#hbg)"/>
<g fill="#aaa"><circle cx="20" cy="40" r="0.6"/><circle cx="90" cy="30" r="0.6"/><circle cx="30" cy="80" r="0.6"/><circle cx="100" cy="90" r="0.6"/></g>
<g fill="url(#sph2)" stroke="#666" stroke-width="0.6">
<circle cx="49" cy="21" r="2.5"/><circle cx="65.6" cy="25" r="4"/><circle cx="72.3" cy="21.7" r="3"/><circle cx="35.6" cy="48.3" r="3"/><circle cx="43.3" cy="49.3" r="3"/><ellipse cx="68" cy="78.3" rx="6" ry="7.5" fill="url(#sph)"/></g>
<rect x="0.5" y="0.5" width="113" height="104.7" fill="none" stroke="#888"/></svg>
<svg x="297.3" y="877.7" width="114.4" height="107.3"><rect width="114.4" height="107.3" fill="#dedede"/>
<g fill="#909090"><circle cx="8" cy="10" r="0.8"/><circle cx="25" cy="20" r="0.7"/><circle cx="15" cy="40" r="0.8"/><circle cx="30" cy="60" r="0.7"/><circle cx="10" cy="70" r="0.8"/><circle cx="90" cy="45" r="0.7"/><circle cx="100" cy="70" r="0.8"/><circle cx="85" cy="90" r="0.7"/><circle cx="105" cy="95" r="0.8"/><circle cx="40" cy="15" r="0.7"/><circle cx="20" cy="30" r="0.7"/><circle cx="5" cy="50" r="0.8"/><circle cx="25" cy="75" r="0.7"/><circle cx="95" cy="60" r="0.7"/><circle cx="105" cy="40" r="0.8"/><circle cx="55" cy="5" r="0.7"/><circle cx="90" cy="75" r="0.7"/></g>
<g fill="url(#sph)" stroke="#3a3a3a" stroke-width="0.7">
<circle cx="72.7" cy="11.3" r="5"/><circle cx="87.7" cy="14" r="7"/><circle cx="102.7" cy="4" r="5"/><circle cx="82.7" cy="27.3" r="7"/><circle cx="67.7" cy="29" r="5"/><circle cx="52.7" cy="32.3" r="3"/><circle cx="39.4" cy="40.6" r="5"/><circle cx="61" cy="44" r="5"/><circle cx="52.7" cy="54" r="3"/><circle cx="69.4" cy="54" r="4"/><circle cx="42.7" cy="57.3" r="3"/><circle cx="67.7" cy="74" r="5"/><circle cx="66" cy="85.6" r="5"/><circle cx="11" cy="92.3" r="5"/><circle cx="19.4" cy="90.6" r="4"/><circle cx="32.7" cy="87.3" r="6"/><circle cx="44.4" cy="85.6" r="5"/><circle cx="52.7" cy="89" r="4"/><circle cx="76" cy="95.6" r="5"/><circle cx="109.4" cy="25.6" r="3"/></g>
<rect x="0.5" y="0.5" width="113.4" height="106.3" fill="none" stroke="#888"/></svg>
<svg x="412.7" y="877.7" width="114" height="107.3"><rect width="114" height="107.3" fill="url(#hbg)"/>
<g fill="#aaa"><circle cx="15" cy="20" r="0.6"/><circle cx="80" cy="70" r="0.6"/><circle cx="40" cy="95" r="0.6"/><circle cx="100" cy="15" r="0.6"/></g>
<g fill="url(#sph2)" stroke="#666" stroke-width="0.6">
<circle cx="27.3" cy="32.3" r="5"/><circle cx="37.3" cy="48.3" r="5"/><circle cx="29" cy="44" r="2.5"/><circle cx="20.6" cy="59.6" r="3.5"/><circle cx="61.3" cy="58.3" r="3"/><circle cx="52.3" cy="77.3" r="3.5"/><circle cx="99" cy="33.3" r="6"/><circle cx="85.6" cy="43" r="2"/></g>
<rect x="0.5" y="0.5" width="113" height="106.3" fill="none" stroke="#888"/></svg>

<!-- ===== Panel I ===== -->
<text x="572" y="750" font-size="17">I</text>
<rect x="604" y="751.7" width="22.7" height="9" fill="#000"/>
<rect x="604" y="765" width="22.7" height="9" fill="#f00"/>
<text x="636.7" y="760.5" font-size="13" letter-spacing="0.6" fill="#111">Control</text>
<text x="638" y="773.8" font-size="13" letter-spacing="0.6" fill="#111">SAV1</text>
<text transform="translate(551,873) rotate(-90)" font-size="14" text-anchor="middle" fill="#111">Sphere numbers</text>
<g font-size="13" text-anchor="end" fill="#111">
<text x="585" y="788.8">250</text>
<text x="585" y="823.4">200</text>
<text x="585" y="858">150</text>
<text x="585" y="892.6">100</text>
<text x="585" y="927.2">50</text>
<text x="585" y="961.8">0</text>
</g>
<g stroke="#000" stroke-width="1.4" fill="none">
<line x1="588.3" y1="784.3" x2="588.3" y2="957.3"/>
<line x1="588.3" y1="957.3" x2="708.3" y2="957.3"/>
<path d="M585.5,784.3H588.3M585.5,818.9H588.3M585.5,853.5H588.3M585.5,888.1H588.3M585.5,922.7H588.3M585.5,957.3H588.3"/>
<path d="M619.8,957.3V961.5M680.2,957.3V961.5"/>
</g>
<rect x="599.3" y="874.3" width="18" height="83" fill="#000"/>
<rect x="622.3" y="917.9" width="17.7" height="39.4" fill="#f00"/>
<rect x="660" y="820.3" width="18.3" height="137" fill="#000"/>
<rect x="682.3" y="917.2" width="18.4" height="40.1" fill="#f00"/>
<g stroke="#000" stroke-width="1.3"><path d="M608.3,874.3V870.8M603.8,870.8H612.8M669.2,820.3V812.7M664.7,812.7H673.7"/></g>
<g stroke="#f00" stroke-width="1.3"><path d="M631.2,917.9V914.4M626.7,914.4H635.7M691.5,917.2V908.9M687,908.9H696"/></g>
<g stroke="#000" stroke-width="1.2" fill="none">
<path d="M607.3,867V863.3H632.7V900"/>
<path d="M668.3,811.7V806.7H692.7V886.7"/>
</g>
<text x="620" y="866" font-size="12" text-anchor="middle" fill="#111">**</text>
<text x="681.7" y="810" font-size="12" text-anchor="middle" fill="#111">**</text>
<g font-size="13" text-anchor="end" fill="#111">
<text transform="translate(621,966) rotate(-45)">HCC827</text>
<text transform="translate(682,966) rotate(-45)">H2170</text>
</g>
</svg>
</body></html>
